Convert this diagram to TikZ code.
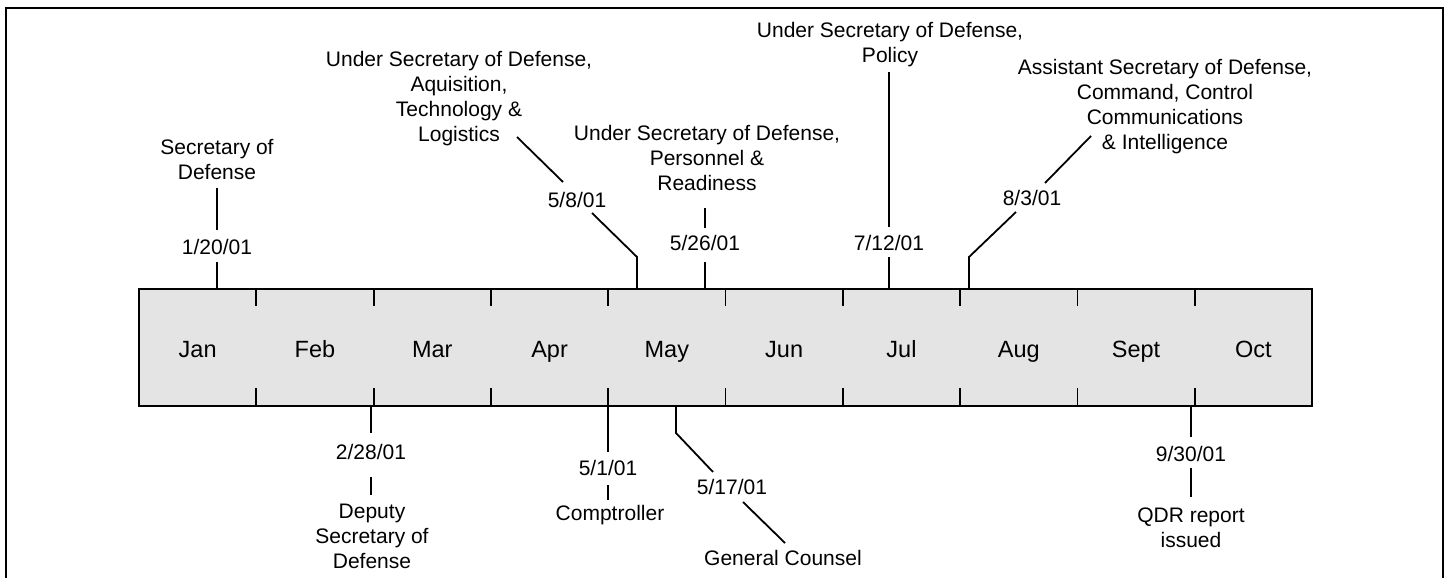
\documentclass[tikz,border=0pt]{standalone}
\usepackage{fontspec}
\setmainfont{Liberation Sans}
\definecolor{boxgray}{HTML}{E4E4E4}
\begin{document}
\begin{tikzpicture}[x=1pt,y=-1pt,
  lbl/.style={font=\fontsize{21}{25}\selectfont, align=center, inner sep=0pt},
  mon/.style={font=\fontsize{23.5}{28}\selectfont, inner sep=0pt, anchor=base},
  conn/.style={line width=1.8pt, line join=miter},
  tick/.style={line width=1.8pt}]
\useasboundingbox (0,0) rectangle (1449,578);
% outer frame (open at the bottom)
\coordinate (fbl) at (6,582);
\coordinate (ftl) at (6,8);
\coordinate (ftr) at (1443,8);
\coordinate (fbr) at (1443,582);
\draw[line width=1.8pt] (fbl) -- (ftl) -- (ftr) -- (fbr);
% timeline bar
\node[draw, fill=boxgray, line width=1.8pt, minimum width=1173pt, minimum height=117pt,
      anchor=north west, inner sep=0pt, outer sep=0pt] (bar) at (139,289) {};
\foreach \k in {1,...,9}{
  \draw[tick] ({139+117.3*\k},289) -- ++(0,17);
  \draw[tick] ({139+117.3*\k},406) -- ++(0,-18);
}
\foreach \m [count=\i from 0] in {Jan,Feb,Mar,Apr,May,Jun,Jul,Aug,Sept,Oct}
  \node[mon] (m\i) at ({139+117.3*(\i+0.5)},357) {\m};

% ---- events above ----
% 1/20/01
\node[lbl] (d1) at (217,247) {1/20/01};
\node[lbl] (t1) at (217,159.5) {Secretary of\\Defense};
\coordinate (d1b) at (217,262); \coordinate (d1t) at (217,230); \coordinate (t1b) at (217,188);
\draw[conn] (d1b |- bar.north) -- (d1b);
\draw[conn] (d1t) -- (t1b);
% 5/8/01
\node[lbl] (d2) at (577,200) {5/8/01};
\node[lbl] (t2) at (459,98.5) {Under Secretary of Defense,\\Aquisition,\\Technology \&\\Logistics};
\coordinate (d2k) at (637,257); \coordinate (d2b) at (592,213);
\coordinate (d2t) at (563,182); \coordinate (t2b) at (517,137);
\draw[conn] (d2k |- bar.north) -- (d2k) -- (d2b);
\draw[conn] (d2t) -- (t2b);
% 5/26/01
\node[lbl] (d3) at (705,243) {5/26/01};
\node[lbl] (t3) at (707,157.5) {Under Secretary of Defense,\\Personnel \&\\Readiness};
\coordinate (d3b) at (705,262); \coordinate (d3t) at (705,228); \coordinate (t3b) at (705,208);
\draw[conn] (d3b |- bar.north) -- (d3b);
\draw[conn] (d3t) -- (t3b);
% 7/12/01
\node[lbl] (d4) at (889,243) {7/12/01};
\node[lbl] (t4) at (890,44.5) {Under Secretary of Defense,\\Policy};
\coordinate (d4b) at (889,257); \coordinate (d4t) at (889,227); \coordinate (t4b) at (889,72);
\draw[conn] (d4b |- bar.north) -- (d4b);
\draw[conn] (d4t) -- (t4b);
% 8/3/01
\node[lbl] (d5) at (1032,198) {8/3/01};
\node[lbl] (t5) at (1165,107) {Assistant Secretary of Defense,\\Command, Control\\Communications\\\& Intelligence};
\coordinate (d5k) at (969,257); \coordinate (d5b) at (1016,212);
\coordinate (d5t) at (1045,183); \coordinate (t5b) at (1091,136);
\draw[conn] (d5k |- bar.north) -- (d5k) -- (d5b);
\draw[conn] (d5t) -- (t5b);

% ---- events below ----
% 2/28/01
\node[lbl] (d6) at (371,452) {2/28/01};
\node[lbl] (t6) at (372,536) {Deputy\\Secretary of\\Defense};
\coordinate (d6t) at (371,433); \coordinate (d6b) at (371,477); \coordinate (t6t) at (371,495);
\draw[conn] (d6t |- bar.south) -- (d6t);
\draw[conn] (d6b) -- (t6t);
% 5/1/01
\node[lbl] (d7) at (608,468) {5/1/01};
\node[lbl] (t7) at (610,515) {Comptroller};
\coordinate (d7t) at (608,452); \coordinate (d7b) at (608,485); \coordinate (t7t) at (608,500);
\draw[conn] (d7t |- bar.south) -- (d7t);
\draw[conn] (d7b) -- (t7t);
% 5/17/01
\node[lbl] (d8) at (732,487) {5/17/01};
\node[lbl] (t8) at (783,558) {General Counsel};
\coordinate (d8k) at (676,433); \coordinate (d8t) at (713,472);
\coordinate (d8b) at (743,502); \coordinate (t8t) at (785,543);
\draw[conn] (d8k |- bar.south) -- (d8k) -- (d8t);
\draw[conn] (d8b) -- (t8t);
% 9/30/01
\node[lbl] (d9) at (1191,454) {9/30/01};
\node[lbl] (t9) at (1191,527.5) {QDR report\\issued};
\coordinate (d9t) at (1191,437); \coordinate (d9b) at (1191,468); \coordinate (t9t) at (1191,497);
\draw[conn] (d9t |- bar.south) -- (d9t);
\draw[conn] (d9b) -- (t9t);
\end{tikzpicture}
\end{document}
